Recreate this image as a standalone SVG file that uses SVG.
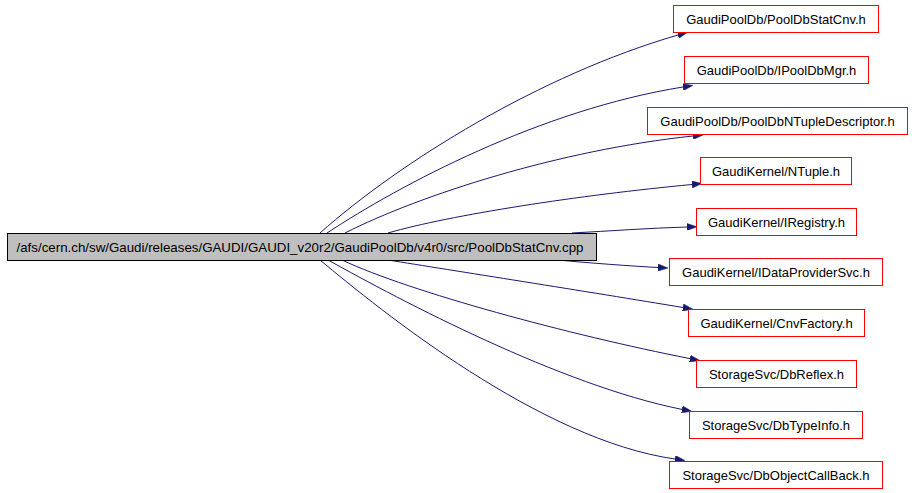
<svg xmlns="http://www.w3.org/2000/svg" width="912" height="493" viewBox="0 0 912 493">
<style>
text{font-family:"Liberation Sans",Arial,sans-serif;font-size:13px;fill:#000;text-anchor:middle}
.n rect{fill:#fff;stroke:#ff0000;stroke-width:1}
.m rect{fill:#bfbfbf;stroke:#000;stroke-width:1}
.e path{fill:none;stroke:#191970;stroke-width:1}
</style>
<defs>
<marker id="ah" viewBox="0 0 10 7" refX="0" refY="3.5" markerWidth="10" markerHeight="7" markerUnits="userSpaceOnUse" orient="auto">
<path d="M0,0 L10,3.5 L0,7 z" fill="#191970" stroke="#191970" stroke-width="0.5"/>
</marker>
</defs>
<rect width="912" height="493" fill="#fff"/>
<g class="e" id="edges">
<path marker-end="url(#ah)" d="M320,233 C400,162 540,75 678,35"/>
<path marker-end="url(#ah)" d="M327,233 C400,185 540,110 683,87"/>
<path marker-end="url(#ah)" d="M345,233 C420,195 560,150 693,136"/>
<path marker-end="url(#ah)" d="M388,233 C450,215 580,195 692,184.5"/>
<path marker-end="url(#ah)" d="M572,233 C610,231 650,228 687,227"/>
<path marker-end="url(#ah)" d="M557,260 C590,263 630,266 658,267.5"/>
<path marker-end="url(#ah)" d="M388,260 C450,270 590,292 683,307.5"/>
<path marker-end="url(#ah)" d="M342,260 C410,292 570,335 690,358.6"/>
<path marker-end="url(#ah)" d="M328,260 C400,300 560,385 682,409.4"/>
<path marker-end="url(#ah)" d="M320,260 C380,310 540,440 675,459"/>
</g>
<g class="m" id="main">
<rect x="7.5" y="233.5" width="589" height="27"/>
<text x="300" y="251.5" textLength="567" lengthAdjust="spacingAndGlyphs">/afs/cern.ch/sw/Gaudi/releases/GAUDI/GAUDI_v20r2/GaudiPoolDb/v4r0/src/PoolDbStatCnv.cpp</text>
</g>
<g class="n" id="n1"><rect x="673.5" y="5.5" width="205" height="27"/><text x="776" y="23.5">GaudiPoolDb/PoolDbStatCnv.h</text></g>
<g class="n" id="n2"><rect x="684.5" y="56.5" width="184" height="27"/><text x="776.5" y="74.5">GaudiPoolDb/IPoolDbMgr.h</text></g>
<g class="n" id="n3"><rect x="647.5" y="107.5" width="260" height="27"/><text x="777.5" y="125.5">GaudiPoolDb/PoolDbNTupleDescriptor.h</text></g>
<g class="n" id="n4"><rect x="700.5" y="157.5" width="151" height="27"/><text x="776" y="175.5">GaudiKernel/NTuple.h</text></g>
<g class="n" id="n5"><rect x="696.5" y="208.5" width="160" height="27"/><text x="776.5" y="226.5">GaudiKernel/IRegistry.h</text></g>
<g class="n" id="n6"><rect x="669.5" y="258.5" width="213" height="27"/><text x="776" y="276.5">GaudiKernel/IDataProviderSvc.h</text></g>
<g class="n" id="n7"><rect x="688.5" y="309.5" width="176" height="27"/><text x="776.5" y="327.5">GaudiKernel/CnvFactory.h</text></g>
<g class="n" id="n8"><rect x="696.5" y="360.5" width="160" height="27"/><text x="776.5" y="378.5">StorageSvc/DbReflex.h</text></g>
<g class="n" id="n9"><rect x="689.5" y="411.5" width="173" height="27"/><text x="776" y="429.5">StorageSvc/DbTypeInfo.h</text></g>
<g class="n" id="n10"><rect x="669.5" y="461.5" width="213" height="27"/><text x="776" y="479.5">StorageSvc/DbObjectCallBack.h</text></g>
</svg>
